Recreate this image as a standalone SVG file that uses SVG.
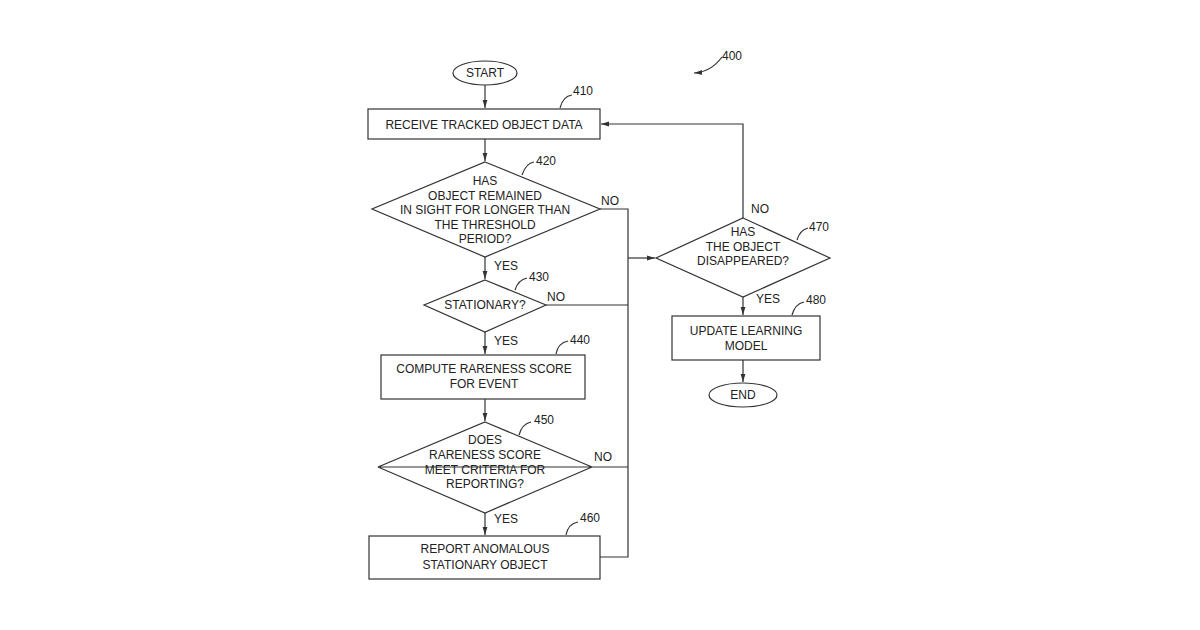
<svg xmlns="http://www.w3.org/2000/svg" width="1200" height="630" viewBox="0 0 1200 630">
<style>
.s{fill:#fff;stroke:#333;stroke-width:1.2}
.c{fill:none;stroke:#333;stroke-width:1.2}
text{font-family:"Liberation Sans",Arial,sans-serif;font-size:12px;fill:#222;text-anchor:middle}
.r{text-anchor:start}
</style>
<defs><marker id="a" viewBox="0 0 10 10" refX="10" refY="5" markerWidth="7" markerHeight="7" orient="auto"><path d="M0,2 L10,5 L0,8 Z" fill="#333"/></marker></defs>
<rect width="1200" height="630" fill="#fff"/>
<g id="connectors">
<path class="c" d="M485,85 V108" marker-end="url(#a)"/>
<path class="c" d="M485,139 V161" marker-end="url(#a)"/>
<path class="c" d="M485,257 V279" marker-end="url(#a)"/>
<path class="c" d="M485,332 V354" marker-end="url(#a)"/>
<path class="c" d="M485,399 V421" marker-end="url(#a)"/>
<path class="c" d="M485,513 V535" marker-end="url(#a)"/>
<path class="c" d="M600,209 H628 V557 H600"/>
<path class="c" d="M546,305 H628"/>
<path class="c" d="M592,467 H628"/>
<path class="c" d="M628,258 H655" marker-end="url(#a)"/>
<path class="c" d="M743,218 V124 H601" marker-end="url(#a)"/>
<path class="c" d="M743,297 V315" marker-end="url(#a)"/>
<path class="c" d="M743,360 V382" marker-end="url(#a)"/>
<path class="c" d="M694,73 Q705,58 722,57" marker-end="url(#a)" transform="rotate(180 708 65)"/>
</g>
<g id="start"><ellipse class="s" cx="485" cy="73" rx="32" ry="12"/><text x="485" y="77">START</text></g>
<g id="n410"><rect class="s" x="368" y="109" width="232" height="30"/><text x="484" y="129">RECEIVE TRACKED OBJECT DATA</text>
<path class="c" d="M560,108 Q563,96 572,95"/><text class="r" x="573" y="95">410</text></g>
<g id="n420"><path class="s" d="M485,162 L600,209 L485,257 L372,209 Z"/>
<text x="485" y="185">HAS</text><text x="485" y="200">OBJECT REMAINED</text><text x="485" y="214">IN SIGHT FOR LONGER THAN</text><text x="485" y="229">THE THRESHOLD</text><text x="485" y="243">PERIOD?</text>
<path class="c" d="M522,175 Q526,163 534,162"/><text class="r" x="536" y="165">420</text>
<text x="610" y="205">NO</text><text x="506" y="270">YES</text></g>
<g id="n430"><path class="s" d="M485,280 L546,305 L485,332 L424,305 Z"/><text x="485" y="309">STATIONARY?</text>
<path class="c" d="M515,290 Q518,280 527,278"/><text class="r" x="529" y="281">430</text>
<text x="556" y="301">NO</text><text x="506" y="345">YES</text></g>
<g id="n440"><rect class="s" x="381" y="355" width="204" height="44"/><text x="484" y="373">COMPUTE  RARENESS SCORE</text><text x="484" y="388">FOR EVENT</text>
<path class="c" d="M556,354 Q558,343 568,341"/><text class="r" x="570" y="344">440</text></g>
<g id="n450"><path class="s" d="M485,422 L592,467 L378,467 Z M378,467 L485,513 L592,467"/>
<text x="485" y="444">DOES</text><text x="485" y="459">RARENESS SCORE</text><text x="485" y="474">MEET CRITERIA FOR</text><text x="485" y="488">REPORTING?</text>
<path class="c" d="M519,435 Q522,424 531,422"/><text class="r" x="534" y="424">450</text>
<text x="603" y="461">NO</text><text x="506" y="523">YES</text></g>
<g id="n460"><rect class="s" x="369" y="536" width="231" height="43"/><text x="485" y="553">REPORT ANOMALOUS</text><text x="485" y="569">STATIONARY OBJECT</text>
<path class="c" d="M566,535 Q568,524 578,522"/><text class="r" x="580" y="522">460</text></g>
<g id="n470"><path class="s" d="M743,218 L830,258 L743,297 L656,258 Z"/>
<text x="743" y="236">HAS</text><text x="743" y="251">THE OBJECT</text><text x="743" y="265">DISAPPEARED?</text>
<path class="c" d="M797,240 Q800,230 808,228"/><text class="r" x="809" y="231">470</text>
<text x="760" y="213">NO</text><text x="768" y="303">YES</text></g>
<g id="n480"><rect class="s" x="672" y="316" width="148" height="44"/><text x="746" y="335">UPDATE LEARNING</text><text x="746" y="350">MODEL</text>
<path class="c" d="M792,315 Q795,304 804,302"/><text class="r" x="806" y="304">480</text></g>
<g id="end"><ellipse class="s" cx="743" cy="395" rx="34" ry="12"/><text x="743" y="399">END</text></g>
<g id="ref400"><text class="r" x="722" y="60">400</text></g>
</svg>
